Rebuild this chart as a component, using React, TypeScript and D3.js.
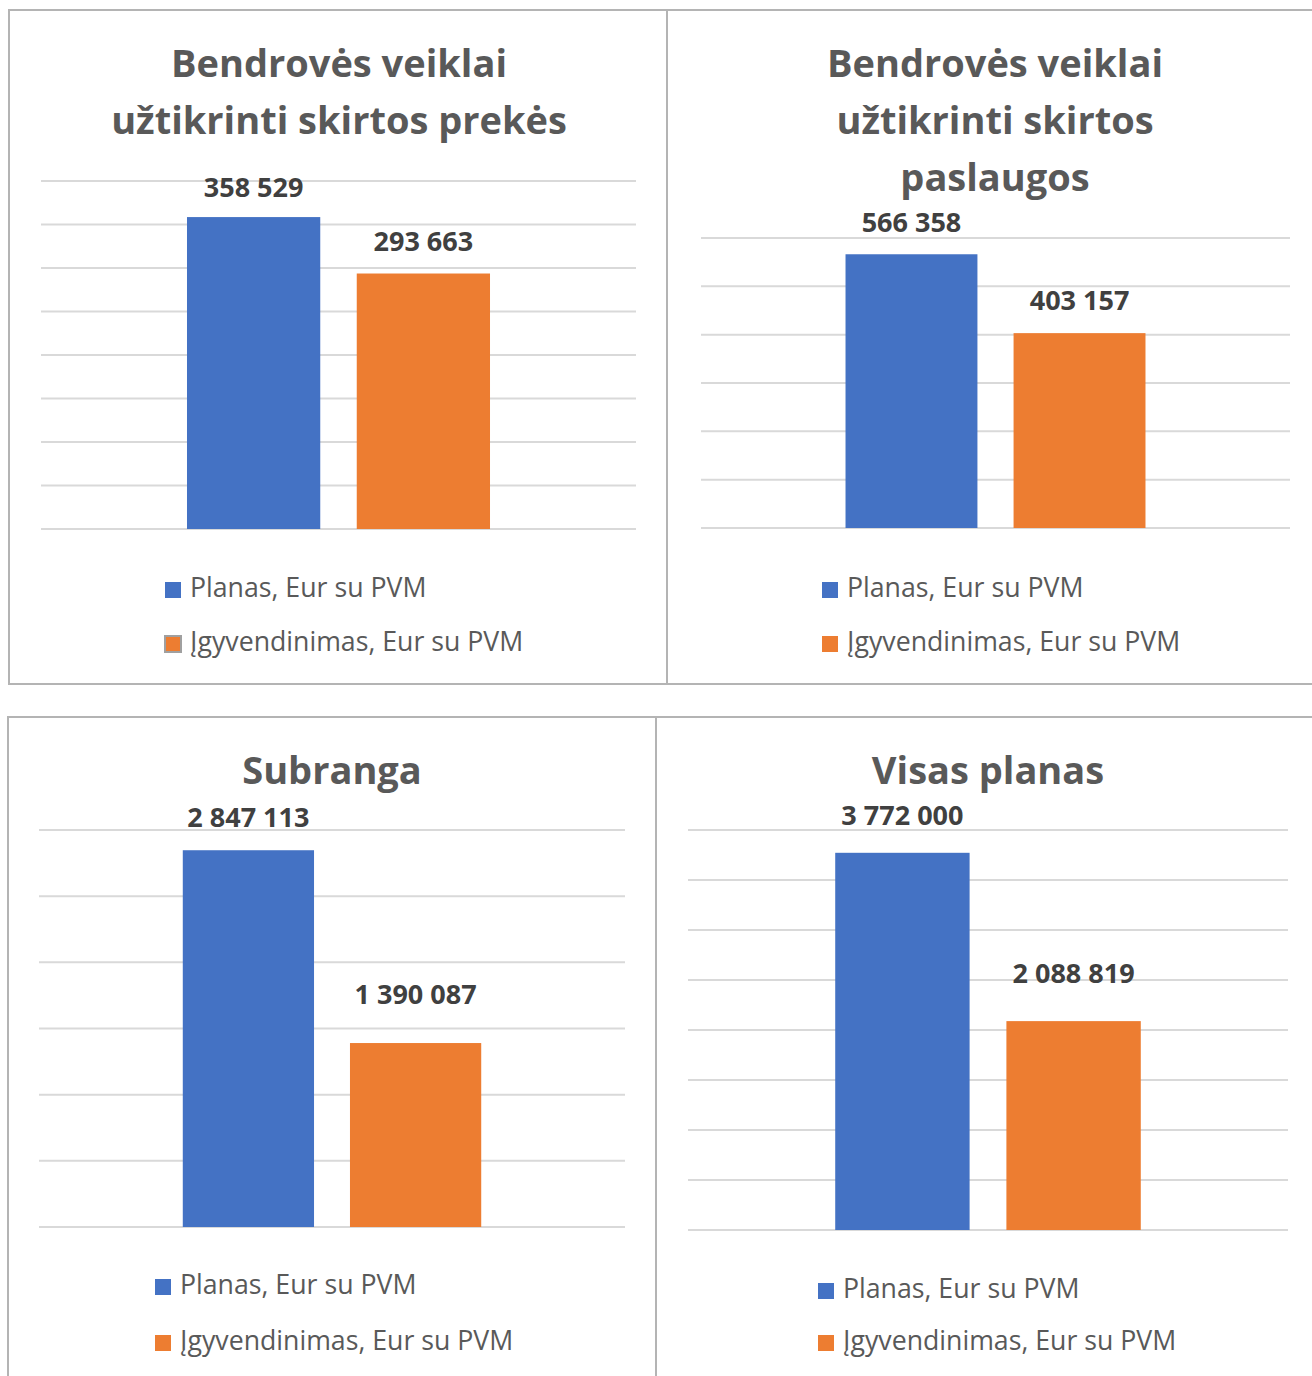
import React from "react";
import * as d3 from "d3";

// chart data
const panelTitles = [
  ["Bendrovės veiklai", "užtikrinti skirtos prekės"],
  ["Bendrovės veiklai", "užtikrinti skirtos", "paslaugos"],
  ["Subranga"],
  ["Visas planas"],
];
const seriesNames = ["Planas, Eur su PVM", "Įgyvendinimas, Eur su PVM"];
const planValues = [358529, 566358, 2847113, 3772000];
const actualValues = [293663, 403157, 1390087, 2088819];
const axisMax = [400000, 600000, 3000000, 4000000];
const tickSteps = [50000, 100000, 500000, 500000];

const colors = ["#4472C4", "#ED7D31"];

// layout of each panel (pixels)
const layout = [
  { box: [9, 10, 658, 674], plotX: [41, 636], plotY: [529, 181], titleX: 339, titleY: 77, legendX: 165, legendY: [597, 651], labelOff: [20, 23] },
  { box: [667, 10, 660, 674], plotX: [701, 1290], plotY: [528, 238], titleX: 995, titleY: 77, legendX: 822, legendY: [597, 651], labelOff: [22, 23] },
  { box: [8, 717, 648, 670], plotX: [39, 625], plotY: [1227, 830], titleX: 332, titleY: 784, legendX: 155, legendY: [1294, 1350], labelOff: [23, 39] },
  { box: [656, 717, 670, 670], plotX: [688, 1288], plotY: [1230, 830], titleX: 988, titleY: 784, legendX: 818, legendY: [1298, 1350], labelOff: [28, 38] },
];

const locale = d3.formatLocale({ decimal: ",", thousands: " ", grouping: [3], currency: ["", ""] });
const fmt = locale.format(",d");

const font = "'Open Sans', 'Noto Sans', sans-serif";

function Panel({ i }: { i: number }) {
  const L = layout[i];
  const values = [planValues[i], actualValues[i]];
  const x = d3.scaleBand<string>()
    .domain(seriesNames)
    .range(L.plotX as [number, number])
    .paddingInner(0.215)
    .paddingOuter(0.86);
  const y = d3.scaleLinear().domain([0, axisMax[i]]).range(L.plotY as [number, number]);
  const ticks = d3.range(0, axisMax[i] + 1, tickSteps[i]);
  const [bx, by, bw, bh] = L.box;

  return (
    <g>
      <rect x={bx} y={by} width={bw} height={bh} fill="white" stroke="#b4b4b4" strokeWidth={2} />
      {panelTitles[i].map((line, k) => (
        <text key={k} x={L.titleX} y={L.titleY + k * 57} textAnchor="middle"
          fontSize={38} fontWeight="bold" fill="#595959">{line}</text>
      ))}
      {ticks.map(t => (
        <line key={t} x1={L.plotX[0]} x2={L.plotX[1]} y1={y(t)} y2={y(t)} stroke="#d9d9d9" strokeWidth={2} />
      ))}
      {seriesNames.map((s, k) => (
        <g key={s}>
          <rect x={x(s)} y={y(values[k])} width={x.bandwidth()} height={y(0) - y(values[k])} fill={colors[k]} />
          <text x={(x(s) as number) + x.bandwidth() / 2} y={y(values[k]) - L.labelOff[k]}
            textAnchor="middle" fontSize={27} fontWeight="bold" fill="#404040">{fmt(values[k])}</text>
        </g>
      ))}
      {seriesNames.map((s, k) => (
        <g key={"lg" + s}>
          <rect x={L.legendX} y={L.legendY[k] - 15} width={16} height={16} fill={colors[k]}
            stroke={i === 0 && k === 1 ? "#a0a0a0" : "none"} strokeWidth={2} />
          <text x={L.legendX + 25} y={L.legendY[k]} fontSize={26.7} fill="#595959">{s}</text>
        </g>
      ))}
    </g>
  );
}

export default function App() {
  return (
    <svg width={1312} height={1376} style={{ position: "absolute", left: 0, top: 0, fontFamily: font }}>
      <rect width={1312} height={1376} fill="white" />
      {layout.map((_, i) => <Panel key={i} i={i} />)}
    </svg>
  );
}
